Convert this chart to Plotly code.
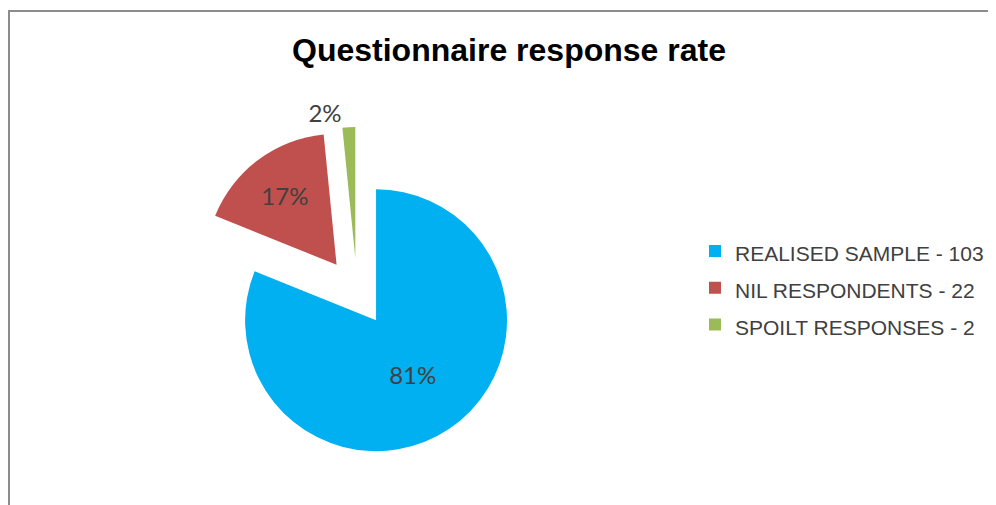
import plotly.graph_objects as go

# Data
labels = ["REALISED SAMPLE - 103", "NIL RESPONDENTS - 22", "SPOILT RESPONSES - 2"]
values = [103, 22, 2]
colors = ["#00B0F0", "#C0504D", "#9BBB59"]
pulls = [0.26, 0.26, 0.26]
text_positions = ["inside", "inside", "outside"]
title_text = "Questionnaire response rate"

W, H = 996, 505
OFF = 8  # page body margin offset
legend_labels = ['<span style="font-size:21px">' + s + "</span>" for s in labels]

fig = go.Figure()
fig.add_trace(go.Pie(
    labels=legend_labels,
    values=values,
    sort=False,
    direction="clockwise",
    rotation=0,
    pull=pulls,
    marker=dict(colors=colors, line=dict(width=0)),
    texttemplate="%{percent:.0%}",
    textposition=text_positions,
    insidetextorientation="horizontal",
    textfont=dict(family="Lato, Open Sans, sans-serif", size=24, color="#404040"),
    domain=dict(x=[(192 - OFF) / W, (522 - OFF) / W],
                y=[1 - (457 - OFF) / H, 1 - (127 - OFF) / H]),
    hoverinfo="label+value+percent",
))

fig.update_layout(
    width=W, height=H,
    margin=dict(l=0, r=0, t=0, b=0, autoexpand=False),
    paper_bgcolor="white",
    plot_bgcolor="white",
    title=dict(
        text="<b>" + title_text + "</b>",
        x=(509 - OFF) / W, xanchor="center",
        y=1 - 42 / H, yanchor="middle", yref="container",
        font=dict(family="Arial, Liberation Sans, sans-serif", size=32, color="#000000"),
    ),
    legend=dict(
        x=(695 - OFF) / W, xanchor="left",
        y=1 - (290 - OFF - 2) / H, yanchor="middle",
        font=dict(family="Arial, Liberation Sans, sans-serif", size=26, color="#404040"),
        bgcolor="rgba(0,0,0,0)",
        borderwidth=0,
    ),
    showlegend=True,
    shapes=[dict(
        type="rect", xref="paper", yref="paper",
        x0=1 / W, x1=1.05, y0=-0.1, y1=1 - (11 - OFF) / H,
        line=dict(color="#8c8c8c", width=2),
        fillcolor="rgba(0,0,0,0)",
        layer="below",
    )],
)

fig.write_html("out.html")
